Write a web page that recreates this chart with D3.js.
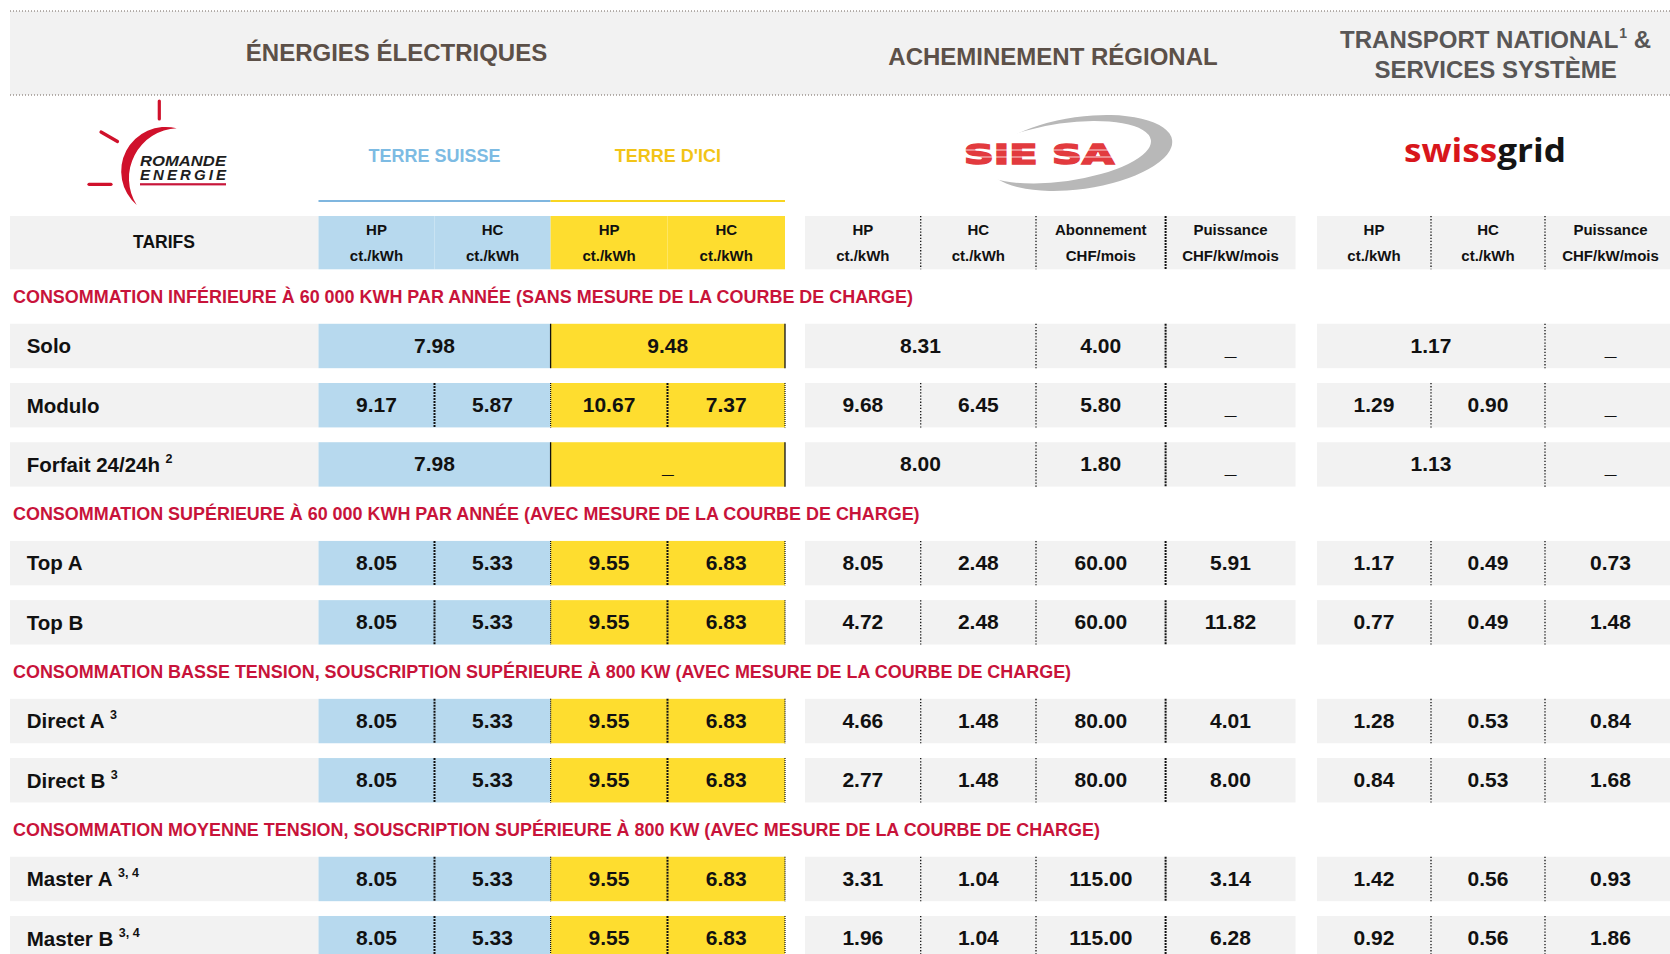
<!DOCTYPE html>
<html lang="fr">
<head>
<meta charset="utf-8">
<title>Tarifs</title>
<script src="https://cdn.jsdelivr.net/npm/d3@7/dist/d3.min.js"></script>
<style>
  body { margin: 0; background: #fff; }
  #chart svg { display: block; font-family: "Liberation Sans", Arial, sans-serif; font-weight: bold; }
  #chart text { white-space: pre; }
</style>
</head>
<body>
<div id="chart"></div>
<script>
// ---- values ----
const groupTitles = ["ÉNERGIES ÉLECTRIQUES", "ACHEMINEMENT RÉGIONAL", "TRANSPORT NATIONAL", "SERVICES SYSTÈME"];
const offres = ["TERRE SUISSE", "TERRE D'ICI"];
const sections = [
  "CONSOMMATION INFÉRIEURE À 60 000 KWH PAR ANNÉE (SANS MESURE DE LA COURBE DE CHARGE)",
  "CONSOMMATION SUPÉRIEURE À 60 000 KWH PAR ANNÉE (AVEC MESURE DE LA COURBE DE CHARGE)",
  "CONSOMMATION BASSE TENSION, SOUSCRIPTION SUPÉRIEURE À 800 KW (AVEC MESURE DE LA COURBE DE CHARGE)",
  "CONSOMMATION MOYENNE TENSION, SOUSCRIPTION SUPÉRIEURE À 800 KW (AVEC MESURE DE LA COURBE DE CHARGE)"
];
const tarifs = ["Solo", "Modulo", "Forfait 24/24h", "Top A", "Top B", "Direct A", "Direct B", "Master A", "Master B"];
const renvois = ["", "", "2", "", "", "3", "3", "3, 4", "3, 4"];
const sectionOfTarif = [0, 0, 0, 1, 1, 2, 2, 3, 3];

const headTop  = ["HP", "HC", "HP", "HC", "HP", "HC", "Abonnement", "Puissance", "HP", "HC", "Puissance"];
const headUnit = ["ct./kWh", "ct./kWh", "ct./kWh", "ct./kWh", "ct./kWh", "ct./kWh", "CHF/mois", "CHF/kW/mois", "ct./kWh", "ct./kWh", "CHF/kW/mois"];

// null = cell merged into the one on its left
const terreSuisseHP = ["7.98", "9.17", "7.98", "8.05", "8.05", "8.05", "8.05", "8.05", "8.05"];
const terreSuisseHC = [null, "5.87", null, "5.33", "5.33", "5.33", "5.33", "5.33", "5.33"];
const terreDiciHP   = ["9.48", "10.67", "_", "9.55", "9.55", "9.55", "9.55", "9.55", "9.55"];
const terreDiciHC   = [null, "7.37", null, "6.83", "6.83", "6.83", "6.83", "6.83", "6.83"];
const sieHP         = ["8.31", "9.68", "8.00", "8.05", "4.72", "4.66", "2.77", "3.31", "1.96"];
const sieHC         = [null, "6.45", null, "2.48", "2.48", "1.48", "1.48", "1.04", "1.04"];
const sieAbonnement = ["4.00", "5.80", "1.80", "60.00", "60.00", "80.00", "80.00", "115.00", "115.00"];
const siePuissance  = ["_", "_", "_", "5.91", "11.82", "4.01", "8.00", "3.14", "6.28"];
const gridHP        = ["1.17", "1.29", "1.13", "1.17", "0.77", "1.28", "0.84", "1.42", "0.92"];
const gridHC        = [null, "0.90", null, "0.49", "0.49", "0.53", "0.53", "0.56", "0.56"];
const gridPuissance = ["_", "_", "_", "0.73", "1.48", "0.84", "1.68", "0.93", "1.86"];

const valueCols = [terreSuisseHP, terreSuisseHC, terreDiciHP, terreDiciHC,
                   sieHP, sieHC, sieAbonnement, siePuissance, gridHP, gridHC, gridPuissance];

// ---- layout ----
const width = 1670, height = 954;
const grey = "#f2f2f2", blue = "#b7d9ee", yellow = "#fedd2f";
const red = "#c8133a", titleBrown = "#5c5048";

const cols = [
  {x0: 318.5, x1: 434.5, fill: blue}, {x0: 434.5, x1: 550.6, fill: blue},
  {x0: 550.6, x1: 667.5, fill: yellow}, {x0: 667.5, x1: 785, fill: yellow},
  {x0: 805, x1: 920.7, fill: grey}, {x0: 920.7, x1: 1036, fill: grey},
  {x0: 1036, x1: 1165.6, fill: grey}, {x0: 1165.6, x1: 1295.5, fill: grey},
  {x0: 1317, x1: 1431, fill: grey}, {x0: 1431, x1: 1545, fill: grey},
  {x0: 1545, x1: 1676, fill: grey}
];
// dividers inside the rows; "dep" = column whose emptiness means a merged cell
const rowRules = [
  {x: 434.5, dep: 1, merged: null, open: "dense"},
  {x: 550.6, dep: 1, merged: "solid", open: "fine"},
  {x: 667.5, dep: 3, merged: null, open: "dense"},
  {x: 785, dep: 3, merged: "solid", open: "fine"},
  {x: 920.7, dep: 5, merged: null, open: "sparse"},
  {x: 1036, open: "sparse"},
  {x: 1165.6, open: "dense"},
  {x: 1431, dep: 9, merged: null, open: "sparse"},
  {x: 1545, open: "sparse"}
];
const headRules = [{x: 920.7, k: "sparse"}, {x: 1036, k: "sparse"}, {x: 1165.6, k: "dense"},
                   {x: 1431, k: "sparse"}, {x: 1545, k: "sparse"}];
const ruleStyle = {
  dense:  {w: 2, dash: "2 1"},
  sparse: {w: 1.3, dash: "1.3 1.8"},
  fine:   {w: 1.2, dash: "1 1"},
  solid:  {w: 1.3, dash: null}
};

const svg = d3.select("#chart").append("svg")
  .attr("width", width).attr("height", height)
  .attr("viewBox", `0 0 ${width} ${height}`);

function rule(g, x, y0, y1, kind) {
  const s = ruleStyle[kind];
  g.append("line").attr("x1", x).attr("x2", x).attr("y1", y0).attr("y2", y1)
    .attr("stroke", "#111").attr("stroke-width", s.w)
    .attr("stroke-dasharray", s.dash);
}

// ---- top band ----
svg.append("rect").attr("x", 10).attr("y", 11).attr("width", width - 10).attr("height", 84).attr("fill", grey);
[11, 95].forEach(yy => svg.append("line")
  .attr("x1", 10).attr("x2", width).attr("y1", yy).attr("y2", yy)
  .attr("stroke", "#6f635b").attr("stroke-width", 1).attr("stroke-dasharray", "1 2"));

const band = svg.append("g").attr("font-size", 24).attr("text-anchor", "middle");
band.append("text").attr("x", 396.5).attr("y", 61).attr("fill", titleBrown).text(groupTitles[0]);
band.append("text").attr("x", 1053).attr("y", 65).attr("fill", titleBrown).text(groupTitles[1]);
const t3 = band.append("text").attr("x", 1495.6).attr("y", 48.3).attr("fill", "#585656");
t3.append("tspan").text(groupTitles[2]);
t3.append("tspan").attr("font-size", 14).attr("dy", -10).attr("dx", 1).text("1");
t3.append("tspan").attr("dy", 10).text(" &");
band.append("text").attr("x", 1495.6).attr("y", 77.7).attr("fill", "#585656").text(groupTitles[3]);

// ---- logos ----
const re = svg.append("g");
re.append("path")
  .attr("d", "M176.7,128.3 A44.4,44.4 0 0 0 136.7,205 A50,50 0 0 1 176.7,128.3 Z")
  .attr("fill", "#d0112b");
[[159.3, 101, 159.3, 119], [101, 132, 117.5, 141.5], [89, 184.3, 111, 184.3]].forEach(r =>
  re.append("line").attr("x1", r[0]).attr("y1", r[1]).attr("x2", r[2]).attr("y2", r[3])
    .attr("stroke", "#d0112b").attr("stroke-width", 3.2).attr("stroke-linecap", "round"));
re.append("text").attr("x", 140).attr("y", 166).attr("font-size", 15).attr("font-style", "italic")
  .attr("fill", "#1e1e1e").attr("textLength", 86).attr("lengthAdjust", "spacingAndGlyphs").text("ROMANDE");
re.append("text").attr("x", 140).attr("y", 180.3).attr("font-size", 15).attr("font-style", "italic")
  .attr("fill", "#1e1e1e").attr("textLength", 86).attr("lengthAdjust", "spacing").text("ENERGIE");
re.append("rect").attr("x", 140).attr("y", 183.2).attr("width", 86).attr("height", 2.2).attr("fill", "#c8163a");

const sie = svg.append("g");
sie.append("ellipse").attr("cx", 1080).attr("cy", 153).attr("rx", 93).attr("ry", 36)
  .attr("transform", "rotate(-8 1080 153)").attr("fill", "#b8b8b8");
sie.append("ellipse").attr("cx", 1064).attr("cy", 150).attr("rx", 88).attr("ry", 29)
  .attr("transform", "rotate(-8 1080 153)").attr("fill", "#fff");
sie.append("text").attr("x", 964).attr("y", 163.5).attr("font-size", 27)
  .attr("font-family", "DejaVu Sans").attr("font-weight", "bold")
  .attr("fill", "#e23a3e").attr("stroke", "#e23a3e").attr("stroke-width", 1.6)
  .attr("textLength", 150).attr("lengthAdjust", "spacingAndGlyphs").text("SIE SA");
[150, 157].forEach(yy => sie.append("line").attr("x1", 962).attr("x2", 1116).attr("y1", yy).attr("y2", yy)
  .attr("stroke", "#fff").attr("stroke-width", 0.8));

const sg = svg.append("text").attr("x", 1404).attr("y", 161.7).attr("font-size", 33)
  .attr("font-family", "'Open Sans', sans-serif").attr("font-weight", 700)
  .attr("textLength", 162).attr("lengthAdjust", "spacingAndGlyphs");
sg.append("tspan").attr("fill", "#d8161b").text("swiss");
sg.append("tspan").attr("fill", "#141414").text("grid");

// ---- offer names above the energy columns ----
const offreCols = [[0, 1], [2, 3]];
const offreColor = ["#7dbbe3", "#f2c417"], offreLine = ["#7fb6df", "#f8d520"];
offreCols.forEach((p, i) => {
  const x0 = cols[p[0]].x0, x1 = cols[p[1]].x1;
  svg.append("text").attr("x", (x0 + x1) / 2).attr("y", 155.7).attr("dy", "0.36em")
    .attr("text-anchor", "middle").attr("font-size", 18).attr("fill", offreColor[i]).text(offres[i]);
  svg.append("line").attr("x1", x0).attr("x2", x1).attr("y1", 201).attr("y2", 201)
    .attr("stroke", offreLine[i]).attr("stroke-width", 2.2);
});

// ---- header row ----
const headY0 = 216, headY1 = 269.3;
const head = svg.append("g");
head.append("rect").attr("x", 10).attr("y", headY0).attr("width", 318.5 - 10).attr("height", headY1 - headY0).attr("fill", grey);
head.append("text").attr("x", 164).attr("y", 242).attr("dy", "0.36em").attr("text-anchor", "middle")
  .attr("font-size", 17.5).attr("fill", "#111").text("TARIFS");
const hc = head.selectAll("g.hc").data(cols).join("g").attr("class", "hc");
hc.append("rect").attr("x", d => d.x0).attr("y", headY0).attr("width", d => d.x1 - d.x0)
  .attr("height", headY1 - headY0).attr("fill", d => d.fill);
hc.append("text").attr("x", d => (d.x0 + d.x1) / 2).attr("y", 230).attr("dy", "0.36em")
  .attr("text-anchor", "middle").attr("font-size", 15).attr("fill", "#111").text((d, i) => headTop[i]);
hc.append("text").attr("x", d => (d.x0 + d.x1) / 2).attr("y", 256).attr("dy", "0.36em")
  .attr("text-anchor", "middle").attr("font-size", 15).attr("fill", "#111").text((d, i) => headUnit[i]);
headRules.forEach(r => rule(head, r.x, headY0, headY1, r.k));

// ---- vertical placement: titles take 2 units, rows 3 units ----
let u = 0;
const titleUnit = [], rowUnit = [];
tarifs.forEach((t, i) => {
  if (i === 0 || sectionOfTarif[i] !== sectionOfTarif[i - 1]) { titleUnit.push(u); u += 2; }
  rowUnit.push(u); u += 3;
});
const y = d3.scaleLinear().domain([0, 1]).range([284.3, 284.3 + 19.74]);
const rowH = y(2.25) - y(0);

svg.append("g").selectAll("text").data(sections).join("text")
  .attr("x", 13).attr("y", (d, i) => y(titleUnit[i]) + 12.5).attr("dy", "0.36em")
  .attr("font-size", 17.95).attr("fill", red).text(d => d);

const rows = svg.append("g").selectAll("g").data(tarifs).join("g")
  .attr("transform", (d, i) => `translate(0,${y(rowUnit[i])})`);

rows.append("rect").attr("x", 10).attr("width", 318.5 - 10).attr("height", rowH).attr("fill", grey);
const lab = rows.append("text").attr("x", 26.7).attr("y", rowH / 2).attr("dy", "0.36em")
  .attr("font-size", 20.5).attr("fill", "#111");
lab.append("tspan").text(d => d);
lab.append("tspan").attr("font-size", 12.5).attr("dx", 5.5).attr("dy", -9).text((d, i) => renvois[i]);

rows.each(function (d, r) {
  const g = d3.select(this);
  const cells = [];
  valueCols.forEach((col, c) => {
    if (col[r] === null) return;
    const span = (c + 1 < valueCols.length && valueCols[c + 1][r] === null) ? 2 : 1;
    cells.push({v: col[r], x0: cols[c].x0, x1: cols[c + span - 1].x1, fill: cols[c].fill});
  });
  g.selectAll("rect.v").data(cells).join("rect").attr("class", "v")
    .attr("x", e => e.x0).attr("width", e => e.x1 - e.x0).attr("height", rowH).attr("fill", e => e.fill);
  g.selectAll("text.v").data(cells).join("text").attr("class", "v")
    .attr("x", e => (e.x0 + e.x1) / 2).attr("y", e => e.v === "_" ? rowH / 2 + 1 : rowH / 2 - 0.5)
    .attr("dy", "0.36em").attr("text-anchor", "middle").attr("font-size", 21).attr("fill", "#111")
    .text(e => e.v);
  rowRules.forEach(k => {
    const merged = k.dep !== undefined && valueCols[k.dep][r] === null;
    const kind = merged ? k.merged : k.open;
    if (kind) rule(g, k.x, 0, rowH, kind);
  });
});
</script>
</body>
</html>
